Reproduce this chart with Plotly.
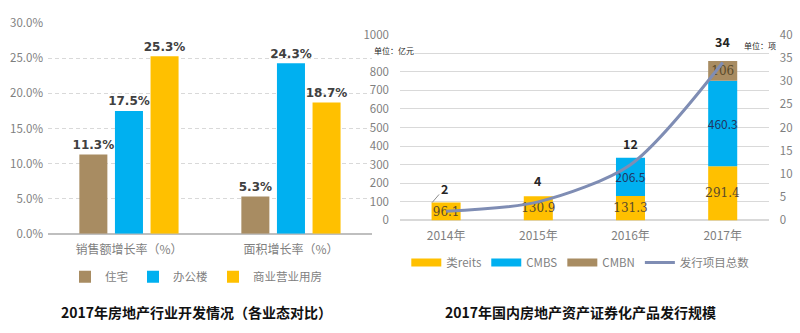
import plotly.graph_objects as go

# ---- data: left chart ----
left_cats = ["销售额增长率（%）", "面积增长率（%）"]
zhuzhai = [11.3, 5.3]
bangong = [17.5, 24.3]
shangye = [25.3, 18.7]
left_names = ["住宅", "办公楼", "商业营业用房"]

# ---- data: right chart ----
years = ["2014年", "2015年", "2016年", "2017年"]
reits = [96.1, 130.9, 131.3, 291.4]
cmbs = [0, 0, 206.5, 460.3]
cmbn = [0, 0, 0, 106]
projects = [2, 4, 12, 34]
right_names = ["类reits", "CMBS", "CMBN", "发行项目总数"]
amount_ticks = [0, 100, 200, 300, 400, 500, 600, 700, 800, 1000]
amount_hidden_ticks = [900]

BROWN = "#A88C62"
BLUE = "#00B0F0"
YELLOW = "#FFC000"
LINE = "#7F8DB4"
FONT = "Noto Sans CJK SC"

fig = go.Figure()

# left grouped bars
lw = 0.173
loffs = [-0.3065, -0.0867, 0.133]
for vals, name, col, off in zip([zhuzhai, bangong, shangye], left_names,
                                [BROWN, BLUE, YELLOW], loffs):
    fig.add_trace(go.Bar(
        x=left_cats, y=vals, name=name, marker_color=col, marker_line_width=0,
        width=lw, offset=off, xaxis="x", yaxis="y",
        text=[f"<b>{v:.1f}%</b>" for v in vals], textposition="outside",
        textfont=dict(size=14, color="#404040", family="DejaVu Sans"),
        cliponaxis=False, legend="legend"))

# right stacked bars (manual base)
base_cmbs = reits
base_cmbn = [a + b for a, b in zip(reits, cmbs)]
rw = 0.315
roff = -0.1575


def lbl(vals):
    return [("" if v == 0 else f"{v:g}") for v in vals]


bar_specs = [
    (reits, None, right_names[0], YELLOW, "#5a4a2a", "DejaVu Serif"),
    (cmbs, base_cmbs, right_names[1], BLUE, "#1F3864", FONT),
    (cmbn, base_cmbn, right_names[2], BROWN, "#5a4a2a", "DejaVu Serif"),
]
for vals, base, name, col, tcol, tfam in bar_specs:
    fig.add_trace(go.Bar(
        x=years, y=vals, base=base, name=name, marker_color=col,
        marker_line_width=0, width=rw, offset=roff, xaxis="x2", yaxis="y2",
        showlegend=False, text=lbl(vals), textposition="inside",
        insidetextanchor="middle", textangle=0, constraintext="none",
        insidetextfont=dict(size=12, color=tcol, family=tfam)))
    # legend entry drawn as a thick line swatch, like the reference
    fig.add_trace(go.Scatter(
        x=[None], y=[None], name=name, mode="lines",
        line=dict(color=col, width=8), xaxis="x2", yaxis="y2",
        legend="legend2"))

fig.add_trace(go.Scatter(
    x=years, y=projects, name=right_names[3], mode="lines",
    line=dict(color=LINE, width=3, shape="spline", smoothing=0.8),
    xaxis="x2", yaxis="y3", legend="legend2"))

annotations = []
for i, (yr, p) in enumerate(zip(years, projects)):
    if i == 0:
        # label with leader line pointing to the bar's top-left corner
        annotations.append(dict(
            x=yr, y=reits[0], xref="x2", yref="y2", xshift=-14,
            text=f"<b>{p}</b>", showarrow=True, arrowhead=0, arrowwidth=1,
            arrowcolor="#8c8c8c", ax=12, ay=-14, standoff=0,
            font=dict(size=12.5, color="#262626", family=FONT)))
    else:
        annotations.append(dict(
            x=yr, y=p, xref="x2", yref="y3", text=f"<b>{p}</b>",
            showarrow=False, yshift=21,
            font=dict(size=12.5, color="#262626", family=FONT)))

annotations += [
    dict(x=0.245, y=(333 - 318) / 333, xref="paper", yref="paper",
         xanchor="center", yanchor="middle",
         text="<b>2017年房地产行业开发情况（各业态对比）</b>", showarrow=False,
         font=dict(size=14, color="#111", family=FONT)),
    dict(x=0.725, y=(333 - 318) / 333, xref="paper", yref="paper",
         xanchor="center", yanchor="middle",
         text="<b>2017年国内房地产资产证券化产品发行规模</b>", showarrow=False,
         font=dict(size=14, color="#111", family=FONT)),
    dict(x=0.466, y=(333 - 44) / 333, xref="paper", yref="paper", text="单位：亿元",
         showarrow=False, xanchor="left", yanchor="middle", bgcolor="white",
         borderpad=0, font=dict(size=8, color="#262626", family=FONT)),
    dict(x=0.973, y=(333 - 38) / 333, xref="paper", yref="paper", text="单位：项",
         showarrow=False, xanchor="right", yanchor="middle", bgcolor="white",
         borderpad=1, font=dict(size=8, color="#262626", family=FONT)),
]

tickfont = dict(size=11.5, color="#7f7f7f", family=FONT)

fig.update_layout(
    width=800, height=333, margin=dict(l=0, r=0, t=0, b=0),
    paper_bgcolor="white", plot_bgcolor="rgba(0,0,0,0)",
    barmode="overlay", font=dict(family=FONT),
    annotations=annotations,
    xaxis=dict(domain=[0.06, 0.465], range=[-0.5, 1.5], anchor="y",
               tickfont=dict(size=12, color="#7f7f7f", family=FONT),
               showline=False, ticks="", showgrid=False, ticklabelstandoff=7),
    yaxis=dict(domain=[0.291, 0.955], range=[0, 30], dtick=5, ticksuffix="%",
               tickformat=".1f", tickfont=tickfont, anchor="x",
               showgrid=True, gridcolor="#d9d9d9", griddash="4px,3px",
               zeroline=True, zerolinecolor="#bfbfbf", zerolinewidth=1.5,
               ticklabelstandoff=4),
    xaxis2=dict(domain=[0.5, 0.961], range=[-0.5, 3.5], anchor="y2",
                tickfont=dict(size=12, color="#7f7f7f", family=FONT),
                showline=False, ticks="", showgrid=False, ticklabelstandoff=7),
    yaxis2=dict(domain=[0.333, 0.919], range=[0, 1000], tickmode="array",
                tickvals=amount_ticks, anchor="x2",
                tickfont=tickfont, showgrid=True, gridcolor="#d9d9d9",
                minor=dict(tickmode="array", tickvals=amount_hidden_ticks,
                           showgrid=True, gridcolor="#d9d9d9", ticks=""),
                zeroline=True, zerolinecolor="#d9d9d9", ticklabelstandoff=10),
    yaxis3=dict(range=[0, 40], dtick=5, overlaying="y2", side="right",
                anchor="x2", showgrid=False, zeroline=False, tickfont=tickfont,
                ticklabelstandoff=10),
    legend=dict(orientation="h", x=0.245, xanchor="center", y=0.155,
                yanchor="middle", font=dict(size=11.5, color="#7f7f7f", family=FONT),
                itemwidth=30, bgcolor="rgba(0,0,0,0)"),
    legend2=dict(orientation="h", x=0.726, xanchor="center", y=0.2,
                 yanchor="middle", font=dict(size=11.5, color="#7f7f7f", family=FONT),
                 itemwidth=30, bgcolor="rgba(0,0,0,0)"),
    uniformtext=dict(minsize=12, mode="show"),
)

fig.write_html("out.html")
